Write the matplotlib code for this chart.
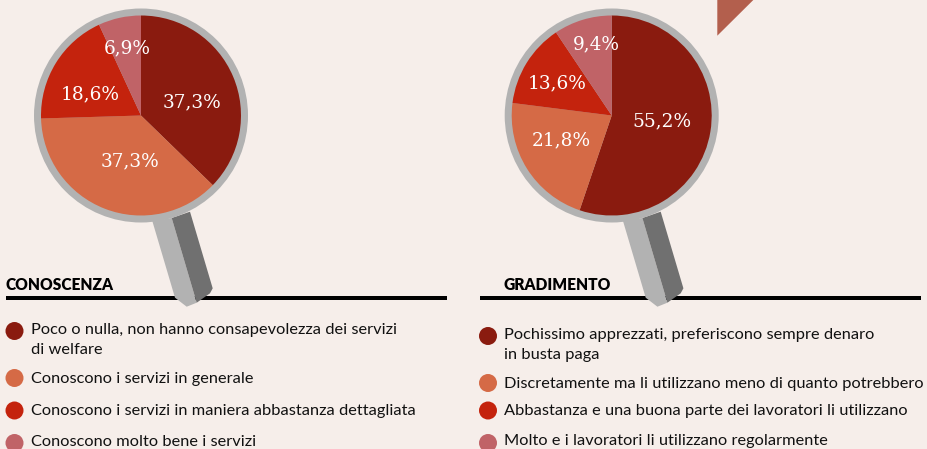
#!/usr/bin/env python
"""
Two magnifying glass pies: conoscenza e gradimento dei servizi di welfare
"""
import matplotlib
matplotlib.use('Agg')
import matplotlib.pyplot as plt
import matplotlib.patches as patches

W, H = 927, 449
BG = '#f6eeea'

left_title = 'CONOSCENZA'
left_values = [37.3, 37.3, 18.6, 6.9]
left_labels = ['37,3%', '37,3%', '18,6%', '6,9%']
left_legend = ['Poco o nulla, non hanno consapevolezza dei servizi\ndi welfare',
               'Conoscono i servizi in generale',
               'Conoscono i servizi in maniera abbastanza dettagliata',
               'Conoscono molto bene i servizi']

right_title = 'GRADIMENTO'
right_values = [55.2, 21.8, 13.6, 9.4]
right_labels = ['55,2%', '21,8%', '13,6%', '9,4%']
right_legend = ['Pochissimo apprezzati, preferiscono sempre denaro\nin busta paga',
                'Discretamente ma li utilizzano meno di quanto potrebbero',
                'Abbastanza e una buona parte dei lavoratori li utilizzano',
                'Molto e i lavoratori li utilizzano regolarmente']

colors = ['#8a1b0f', '#d56a46', '#c4230d', '#c06367']

fig = plt.figure(figsize=(W / 100, H / 100), dpi=100, facecolor=BG)
ax = fig.add_axes([0, 0, 1, 1])
ax.axis('off')


def px(size):
    return size * 72 / 100


def Y(y):
    # positions below are measured from the top of the picture
    return H - y


def glass(cx, cy, values, labels, label_pos):
    # handle first, the ring sits on top of it
    light = [(11.3, 221), (30.7, 218), (55.7, 302.7), (45.7, 306.7), (34, 297.7)]
    dark = [(30.7, 218), (49, 211.7), (71.7, 288.3), (69, 293.3), (55.7, 302.7)]
    ax.add_patch(patches.Polygon([(cx + x, Y(y)) for x, y in light], color='#b2b2b2', lw=0, zorder=3))
    ax.add_patch(patches.Polygon([(cx + x, Y(y)) for x, y in dark], color='#707070', lw=0, zorder=3))
    ax.add_patch(patches.Circle((cx, Y(cy)), 107, color='#b2b2b2', lw=0, zorder=4))
    wedges, _ = ax.pie(values, colors=colors, startangle=90, counterclock=False,
                       center=(cx, Y(cy)), radius=100, normalize=True, frame=False)
    for w in wedges:
        w.set_zorder(5)
        w.set_linewidth(0)
    for text, (x, y) in zip(labels, label_pos):
        ax.text(x, Y(y), text, color='white', fontsize=px(18.5), family='DejaVu Serif',
                ha='center', va='center', zorder=6)


def legend(x_dot, x_text, items, ys):
    for i, (text, color, y) in enumerate(zip(items, colors, ys)):
        ax.add_patch(patches.Circle((x_dot, Y(y)), 9, color=color, lw=0, zorder=3))
        top = y - 8 if '\n' in text else y - 6
        if i == 3:
            top = y - 8.5  # last row sits a bit higher than its dot
        ax.text(x_text, Y(top), text, fontsize=px(16.4), family='Lato', color='#111111',
                ha='left', va='top', linespacing=1.52, zorder=3)


glass(141, 115.5, left_values, left_labels,
      [(192, 102), (130, 161), (90, 94), (127, 48)])
glass(611.7, 115.5, right_values, right_labels,
      [(661.5, 121), (561, 140), (557.5, 83), (596.5, 44)])

# pie resets the limits and the aspect
ax.set_xlim(0, W)
ax.set_ylim(0, H)
ax.set_aspect('auto')

# rules under the titles
ax.plot([6, 447], [Y(298.3), Y(298.3)], color='black', lw=px(4), solid_capstyle='butt', zorder=2)
ax.plot([480, 921], [Y(298.3), Y(298.3)], color='black', lw=px(4), solid_capstyle='butt', zorder=2)

ax.text(5.5, Y(285), left_title, fontsize=px(15.5), fontweight='heavy', family='Lato',
        color='black', ha='left', va='center')
ax.text(503.5, Y(285), right_title, fontsize=px(15.5), fontweight='heavy', family='Lato',
        color='black', ha='left', va='center')

legend(14.5, 31, left_legend, [331, 378, 410.5, 443])
legend(488, 504, right_legend, [336, 383, 410.5, 443])

# corner of the decoration at the top
ax.add_patch(patches.Polygon([(717.3, Y(0)), (753.3, Y(0)), (717.3, Y(35.7))], color='#b35f4d', lw=0))

fig.savefig('out.png', dpi=100, facecolor=BG)
